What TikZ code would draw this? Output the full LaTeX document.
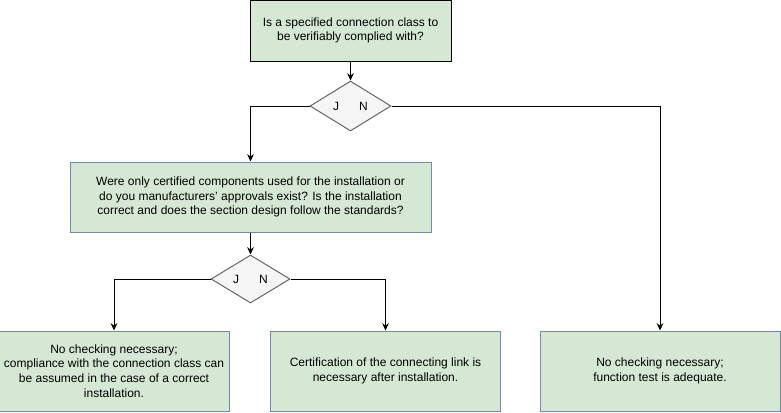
\documentclass[tikz,border=0pt]{standalone}
\usepackage{fontspec}
\setmainfont{Liberation Sans}
\usetikzlibrary{positioning,shapes.geometric,arrows.meta}
\definecolor{boxfill}{HTML}{D5E8D4}
\definecolor{boxline}{HTML}{7489B0}
\definecolor{decfill}{HTML}{F5F5F5}
\definecolor{decline}{HTML}{666666}
\begin{document}
\begin{tikzpicture}[x=0.75pt,y=-0.75pt,line width=0.75pt,>={Stealth[length=5.5pt,width=5pt]},
	every node/.style={font=\fontsize{9}{11}\selectfont,align=center},
	main node/.style={rectangle,fill=boxfill,draw=boxline,inner sep=2pt},
	decision/.style={diamond,fill=decfill,draw=decline,inner sep=0pt},
	elbow/.style={to path={-| (\tikztotarget)}}]
		\useasboundingbox (0,0) rectangle (781,412);
		%[questions and decisions]
		\node[main node,draw=black,minimum width=150.75pt,minimum height=45.75pt] (1) at (350.5,30.5) {Is a specified connection class to\\be verifiably complied with?};
		\node[decision,minimum width=60.75pt,minimum height=37.5pt] (2) [below=14.25pt of 1] {J\hspace{15pt}N};
		\node[main node,minimum width=270.75pt,minimum height=52.5pt] (3) [below=22.5pt of 2,xshift=-75pt] {Were only certified components used for the installation or\\do you manufacturers\symbol{39} approvals exist? Is the installation\\correct and does the section design follow the standards?};
		\node[decision,minimum width=59.25pt,minimum height=36pt] (4) [below=16.5pt of 3] {J\hspace{15pt}N};
		%[results]
		\node[main node,minimum width=172.5pt,minimum height=60pt] (5) at (114,371) {No checking necessary;\\compliance with the connection class can\\be assumed in the case of a correct\\installation.};
		\node[main node,minimum width=172.5pt,minimum height=60pt] (6) at (385.5,371) {Certification of the connecting link is\\necessary after installation.};
		\node[main node,minimum width=180pt,minimum height=60pt] (7) at (660,371) {No checking necessary;\\function test is adequate.};
		
		\path[->]
		(1) edge (2)
		(2.west) edge[elbow] (3.north)
		(2.east) edge[elbow] (7.north)
		(3) edge (4)
		(4.west) edge[elbow] (5.north)
		(4.east) edge[elbow] (6.north)
		;
\end{tikzpicture}
\end{document}
